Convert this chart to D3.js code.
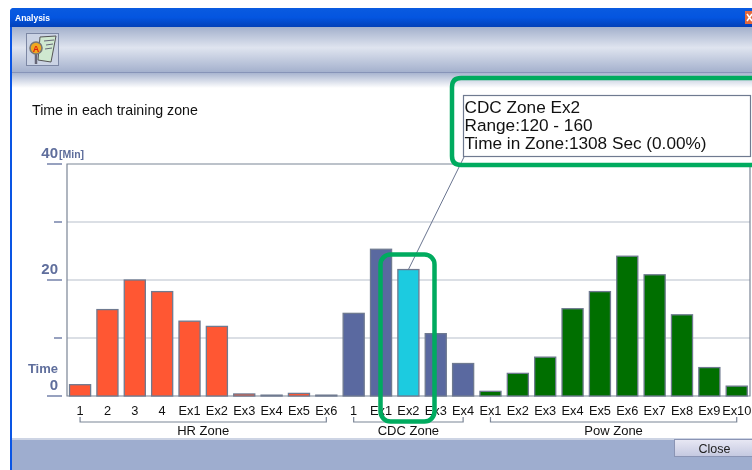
<!DOCTYPE html>
<html><head><meta charset="utf-8">
<script src="https://cdn.jsdelivr.net/npm/d3@7"></script>
<style>html,body{margin:0;padding:0;background:#fff;overflow:hidden}svg{display:block;filter:blur(0.35px)}text{font-family:Arial,"Liberation Sans",sans-serif}</style>
</head><body><svg id="c" width="752" height="470"></svg>
<script>
const hrLabels=["1","2","3","4","Ex1","Ex2","Ex3","Ex4","Ex5","Ex6"];
const hrValues=[1.95,14.9,20,18,12.9,12,0.35,0.15,0.45,0.15];
const cdcLabels=["1","Ex1","Ex2","Ex3","Ex4"];
const cdcValues=[14.25,25.3,21.8,10.75,5.6];
const powLabels=["Ex1","Ex2","Ex3","Ex4","Ex5","Ex6","Ex7","Ex8","Ex9","Ex10"];
const powValues=[0.8,3.9,6.7,15.05,18,24.1,20.9,14,4.9,1.7];
const yTicks=[0,10,20,30,40];
const yTickLabels={0:"0",20:"20",40:"40"};
const tipLines=["CDC Zone Ex2","Range:120 - 160","Time in Zone:1308 Sec (0.00%)"];

const groups=[{name:"HR Zone",labels:hrLabels,values:hrValues,color:"#ff5733"},
 {name:"CDC Zone",labels:cdcLabels,values:cdcValues,color:"#5a69a0"},
 {name:"Pow Zone",labels:powLabels,values:powValues,color:"#006f00"}];
const rows=groups.flatMap(g=>g.labels.map((l,i)=>({key:g.name+i,label:l,value:g.values[i],group:g.name,color:g.color})));
const svg=d3.select("#c");
const defs=svg.append("defs");
function grad(id,stops){const g=defs.append("linearGradient").attr("id",id).attr("x1",0).attr("x2",0).attr("y1",0).attr("y2",1);
 stops.forEach(s=>g.append("stop").attr("offset",s[0]).attr("stop-color",s[1]));}
grad("title",[[0,"#0a5be0"],[.5,"#0455e0"],[1,"#0340b8"]]);
grad("hdr",[[0,"#a3b0cc"],[.45,"#dfe4ef"],[1,"#a2afcc"]]);
grad("fade",[[0,"#a9b5d0"],[1,"#ffffff"]]);
grad("btn",[[0,"#e8e8f4"],[1,"#c4c8e0"]]);

// window chrome
svg.append("path").attr("d","M10 470V12Q10 8 14 8H752V470Z").attr("fill","#0a55e4");
svg.append("path").attr("d","M10 27V12Q10 8 14 8H752V27Z").attr("fill","url(#title)");
svg.append("rect").attr("x",12).attr("y",27).attr("width",740).attr("height",46).attr("fill","url(#hdr)");
svg.append("rect").attr("x",12).attr("y",72).attr("width",740).attr("height",1).attr("fill","#8794b8");
svg.append("rect").attr("x",12).attr("y",73).attr("width",740).attr("height",15).attr("fill","url(#fade)");
svg.append("rect").attr("x",12).attr("y",88).attr("width",740).attr("height",351).attr("fill","#fff");
svg.append("rect").attr("x",12).attr("y",439).attr("width",740).attr("height",31).attr("fill","#9eadcf");
svg.append("rect").attr("x",12).attr("y",438).attr("width",740).attr("height",2).attr("fill","#cdd4e4");
svg.append("text").attr("x",15).attr("y",21).attr("font-size",8.5).attr("font-weight","bold").attr("fill","#fff").text("Analysis");
// close box
svg.append("rect").attr("x",745).attr("y",11).attr("width",7).attr("height",13).attr("fill","#e2683c");
svg.append("path").attr("d","M747 14L752 21M752 14L747 21").attr("stroke","#fff").attr("stroke-width",1.6);
// toolbar icon
svg.append("rect").attr("x",26.5).attr("y",33.5).attr("width",32).attr("height",32).attr("fill","#cbd3e4").attr("stroke","#7c87a4");
svg.append("path").attr("d","M40 37L56 36L51 62L38 60Z").attr("fill","#cfe8d0").attr("stroke","#555");
svg.append("path").attr("d","M44 41L54 40M46 45L53 44M45 49L52 48").attr("stroke","#667").attr("stroke-width",1);
svg.append("path").attr("d","M36 54V64").attr("stroke","#667").attr("stroke-width",2.5);
svg.append("circle").attr("cx",36).attr("cy",48).attr("r",6).attr("fill","#f0a820").attr("stroke","#777").attr("stroke-width",1.6);
svg.append("text").attr("x",36).attr("y",51.5).attr("text-anchor","middle").attr("font-size",9).attr("font-weight","bold").attr("fill","#e02010").text("A");

svg.append("text").attr("x",32).attr("y",115).attr("font-size",14.2).attr("fill","#111").text("Time in each training zone");

const x=d3.scaleBand().domain(rows.map(d=>d.key)).range([66.4,750.4]).paddingInner(.23).paddingOuter(.115);
const y=d3.scaleLinear().domain([0,40]).range([396,164]);

// gridlines
svg.append("g").selectAll("line").data(yTicks.slice(1,4)).join("line")
 .attr("x1",67).attr("x2",750).attr("y1",d=>y(d)).attr("y2",d=>y(d)).attr("stroke","#b7bfcc").attr("stroke-width",1.2);
svg.append("path").attr("d",`M750 ${y(40)}H67V${y(0)}H750Z`).attr("fill","none").attr("stroke","#7b8596").attr("stroke-width",1.2);
// y ticks
svg.append("g").selectAll("line").data(yTicks).join("line")
 .attr("x1",d=>d%20===0?47:54).attr("x2",62).attr("y1",d=>y(d)).attr("y2",d=>y(d)).attr("stroke","#5f6e9c").attr("stroke-width",1.3);
svg.append("g").selectAll("text").data(yTicks.filter(d=>yTickLabels[d]!==undefined)).join("text")
 .attr("x",58).attr("y",d=>y(d)-6).attr("text-anchor","end").attr("font-size",15).attr("font-weight","bold").attr("fill","#5f6e9c").text(d=>yTickLabels[d]);
svg.append("text").attr("x",59).attr("y",158).attr("font-size",10.5).attr("font-weight","bold").attr("fill","#5f6e9c").text("[Min]");
svg.append("text").attr("x",58).attr("y",372.5).attr("text-anchor","end").attr("font-size",13).attr("font-weight","bold").attr("fill","#5f6e9c").text("Time");

// bars
const hi="CDC Zone2";
svg.append("g").selectAll("rect").data(rows).join("rect")
 .attr("x",d=>x(d.key)).attr("width",x.bandwidth()).attr("y",d=>y(d.value)).attr("height",d=>y(0)-y(d.value))
 .attr("fill",d=>d.key===hi?"#1ccbe0":d.color).attr("stroke","#6f7a90").attr("stroke-width",1.3);

// x labels
svg.append("g").selectAll("text").data(rows).join("text")
 .attr("x",d=>x(d.key)+x.bandwidth()/2).attr("y",415).attr("text-anchor","middle").attr("font-size",12.8).attr("fill","#111").text(d=>d.label);
// brackets
groups.forEach(g=>{
 const ks=rows.filter(r=>r.group===g.name);
 const a=x(ks[0].key)+x.bandwidth()/2,b=x(ks[ks.length-1].key)+x.bandwidth()/2;
 svg.append("path").attr("d",`M${a} 417V422H${b}V417`).attr("fill","none").attr("stroke","#7b8596").attr("stroke-width",1.2);
 svg.append("text").attr("x",(a+b)/2).attr("y",435).attr("text-anchor","middle").attr("font-size",13).attr("fill","#111").text(g.name);
});

// leader + tooltip
const hr=rows.find(r=>r.key===hi);
svg.append("line").attr("x1",x(hi)+x.bandwidth()/2).attr("y1",y(hr.value)).attr("x2",464).attr("y2",157).attr("stroke","#6a7590");
svg.append("rect").attr("x",463.5).attr("y",95.5).attr("width",287).attr("height",61).attr("fill","#fff").attr("stroke","#6f7a90").attr("stroke-width",1.2);
svg.append("g").selectAll("text").data(tipLines).join("text").attr("x",464.5).attr("y",(d,i)=>112.5+i*18.4).attr("font-size",17.2).attr("fill","#111").text(d=>d);

// green annotation outlines
const ann="#00ab5f";
svg.append("path").attr("d","M752 78H461Q452 78 452 87V156Q452 165 461 165H752").attr("fill","none").attr("stroke",ann).attr("stroke-width",4.5);
svg.append("rect").attr("x",380.5).attr("y",254.5).attr("width",54).attr("height",167).attr("rx",10).attr("fill","none").attr("stroke",ann).attr("stroke-width",4.5);

// Close button
svg.append("rect").attr("x",674.5).attr("y",439.5).attr("width",78).attr("height",17).attr("fill","url(#btn)").attr("stroke","#8a94b4");
svg.append("text").attr("x",714.5).attr("y",453).attr("text-anchor","middle").attr("font-size",12.5).attr("fill","#222").text("Close");
</script></body></html>
